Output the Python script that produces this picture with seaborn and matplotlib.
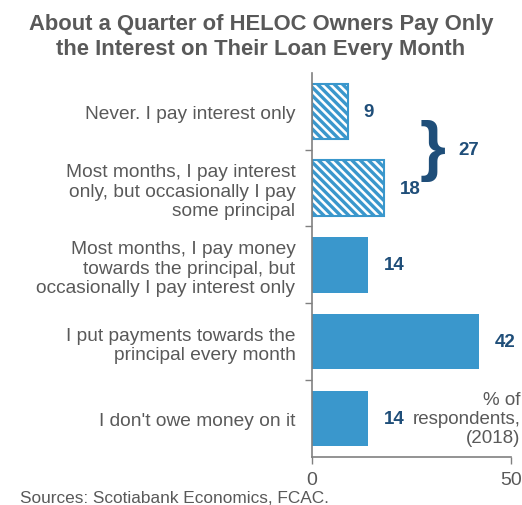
import matplotlib
matplotlib.use("Agg")
import matplotlib.pyplot as plt
import seaborn as sns
import pandas as pd

categories = [
    "Never. I pay interest only",
    "Most months, I pay interest\nonly, but occasionally I pay\nsome principal",
    "Most months, I pay money\ntowards the principal, but\noccasionally I pay interest only",
    "I put payments towards the\nprincipal every month",
    "I don't owe money on it",
]
values = [9, 18, 14, 42, 14]
interest_only_total = 27
x_ticks = [0, 50]

sns.set_theme(style="white")
plt.rcParams["font.family"] = ["Liberation Sans", "DejaVu Sans"]
plt.rcParams["hatch.linewidth"] = 2.4

blue = "#3a97cc"
navy = "#1f4e79"
gray = "#595959"
axis_gray = "#808080"

df = pd.DataFrame({"category": categories, "value": values})

fig = plt.figure(figsize=(5.22, 5.06), dpi=100)
ax = fig.add_axes([0.598, 0.095, 0.381, 0.759])

sns.barplot(data=df, x="value", y="category", color=blue, saturation=1,
            width=0.72, ax=ax)

for i, p in enumerate(ax.patches):
    if i < 2:
        p.set_facecolor("white")
        p.set_edgecolor(blue)
        p.set_hatch("\\\\\\\\")
        p.set_linewidth(1.5)
    else:
        p.set_edgecolor("none")

ax.set_xlim(0, 50)
ax.set_ylim(len(categories) - 0.5, -0.5)
ax.set_xticks(x_ticks)
ax.set_xticklabels([str(t) for t in x_ticks], fontsize=14, color=gray)
ax.set_yticks([i + 0.5 for i in range(len(categories) - 1)], minor=False)
ax.set_yticklabels([])
ax.set_yticks(range(len(categories)), minor=True)
ax.set_yticklabels(categories, minor=True, fontsize=13.8, color=gray,
                   linespacing=1.18)
ax.tick_params(axis="y", which="minor", length=0, pad=12)
ax.tick_params(axis="y", which="major", length=5, width=1, color=axis_gray,
               direction="out", left=True)
ax.tick_params(axis="x", length=5, width=1, color=axis_gray, direction="out",
               bottom=True, pad=5)
ax.set_xlabel("")
ax.set_ylabel("")

for s in ["top", "right"]:
    ax.spines[s].set_visible(False)
for s in ["left", "bottom"]:
    ax.spines[s].set_color(axis_gray)
    ax.spines[s].set_linewidth(1.2)

for i, v in enumerate(values):
    ax.text(v + 4.0, i, str(v), ha="left", va="center", fontsize=13.5,
            fontweight="bold", color=navy)

# brace grouping the two interest-only answers
ax.text(30.3, 0.5, "}", ha="center", va="center", fontsize=48,
        color=navy, fontweight="bold")
ax.text(36.8, 0.5, str(interest_only_total), ha="left", va="center",
        fontsize=13.5, fontweight="bold", color=navy)

ax.text(52.3, 4.0, "% of\nrespondents,\n(2018)", ha="right", va="center",
        fontsize=13.5, color=gray, linespacing=1.12)

fig.text(0.5, 0.973, "About a Quarter of HELOC Owners Pay Only\nthe Interest on Their Loan Every Month",
         ha="center", va="top", fontsize=15.8, fontweight="bold", color=gray,
         linespacing=1.28)
fig.text(0.038, 0.0, "Sources: Scotiabank Economics, FCAC.", ha="left",
         va="bottom", fontsize=12.4, color=gray)

fig.savefig("out.png", dpi=100)
